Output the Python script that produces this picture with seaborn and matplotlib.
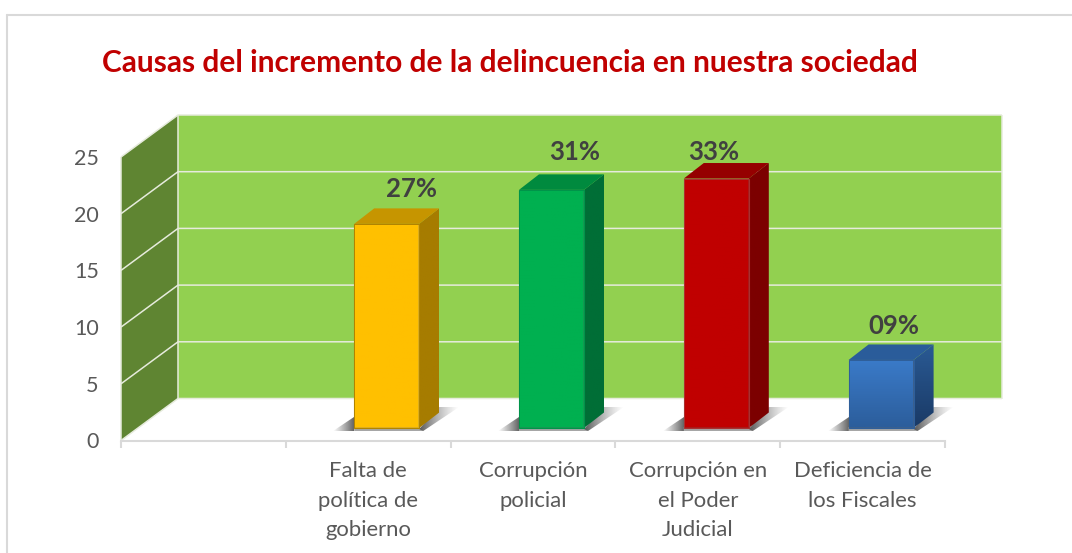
import numpy as np
import pandas as pd
import seaborn as sns
import matplotlib
matplotlib.use("Agg")
import matplotlib.pyplot as plt
from matplotlib.colors import to_rgba
from matplotlib.lines import Line2D
from matplotlib.patches import Polygon
from matplotlib.transforms import Affine2D, IdentityTransform

# ---- data -------------------------------------------------------------
title = "Causas del incremento de la delincuencia en nuestra sociedad"
blank_category = " "
categories = ["Falta de\npolítica de\ngobierno", "Corrupción\npolicial",
              "Corrupción en\nel Poder\nJudicial", "Deficiencia de\nlos Fiscales"]
values = [18, 21, 22, 6]
percent_labels = ["27%", "31%", "33%", "09%"]
y_ticks = [0, 5, 10, 15, 20, 25]

# ---- style ------------------------------------------------------------
front_colors = ["#FFC000", "#00B050", "#C00000", "#3A7AC8"]
front_colors_low = ["#FFC000", "#00B050", "#C00000", "#2C5E9C"]
side_colors = ["#A67C00", "#006E36", "#7C0000", "#2A5A94"]
side_colors_low = ["#A67C00", "#006E36", "#7C0000", "#1A3A66"]
top_colors = ["#C69500", "#008A3E", "#950000", "#2A5C9A"]
edge_colors = ["#B08400", "#00944A", "#A83030", "#2F5F9A"]
label_offsets = [(24.5, 35), (23.5, 38), (-2.5, 27), (12.5, 34)]   # px from front-top-centre

W, H = 1072, 553
sns.set_theme(style="white")
plt.rcParams["font.family"] = ["Lato", "DejaVu Sans"]

fig = plt.figure(figsize=(W / 100, H / 100), dpi=100, facecolor="white")
ax = fig.add_axes([121 / W, 1 - 440.5 / H, (945 - 121) / W, (440.5 - 157) / H])
ax.patch.set_alpha(0)

df = pd.DataFrame({"cat": categories, "val": values})
order = [blank_category] + categories
bar_width = 65 / 164.8
sns.barplot(data=df, x="cat", y="val", hue="cat", order=order, hue_order=categories,
            palette=dict(zip(categories, front_colors_low)), width=bar_width, dodge=False,
            legend=False, ax=ax, zorder=5)

ax.set_xlim(-0.5, len(order) - 0.5)
ax.set_ylim(0, 25)
ax.set_autoscale_on(False)

# ---- axes -------------------------------------------------------------
ax.set_xlabel("")
ax.set_ylabel("")
for s in ["top", "left", "right"]:
    ax.spines[s].set_visible(False)
ax.spines["bottom"].set_color("#D9D9D9")
ax.spines["bottom"].set_linewidth(1.5)
ax.set_yticks(y_ticks)
ax.tick_params(axis="y", length=0, pad=16, labelsize=15.5, labelcolor="#595959")
ax.set_xticks(range(len(order)))
ax.set_xticklabels(order, linespacing=1.58)
ax.tick_params(axis="x", which="major", length=0, pad=15, labelsize=15.9, labelcolor="#595959")
ax.set_xticks(np.arange(-0.5, len(order)), minor=True)
ax.tick_params(axis="x", which="minor", length=5, width=1.5, color="#D9D9D9", bottom=True)

fig.text(102 / W, 1 - 63.5 / H, title, color="#C00000", fontsize=21.5, fontweight="bold",
         va="center", ha="left")

# ---- helpers working in display pixels --------------------------------
ident = IdentityTransform()


def gradient(verts, colors, axis, z):
    """Fill a polygon with a linear gradient; axis 'x' or 'y' (low to high pixel)."""
    poly = Polygon(verts, closed=True, transform=ident, fc="none", ec="none", zorder=z)
    ax.add_patch(poly)
    xs, ys = zip(*verts)
    c = np.array([to_rgba(k) for k in colors])
    t = np.linspace(0, 1, 32)
    ramp = np.array([np.interp(t, np.linspace(0, 1, len(c)), c[:, i]) for i in range(4)]).T
    arr = ramp[None, :, :] if axis == "x" else ramp[:, None, :]
    im = ax.imshow(arr, extent=(min(xs), max(xs), min(ys), max(ys)), origin="lower",
                   transform=ident, aspect="auto", zorder=z, interpolation="bilinear")
    im.set_clip_box(fig.bbox)
    im.set_clip_path(poly)


def flat(verts, color, z):
    ax.add_patch(Polygon(verts, closed=True, transform=ident, fc=color, ec="none",
                         zorder=z, clip_on=False))


def line(xs, ys, z=2, color="#E6EBDC", lw=1.1):
    ax.add_line(Line2D(xs, ys, transform=ident, color=color, lw=lw, zorder=z, clip_on=False,
                       solid_capstyle="butt"))


# ---- walls and gridlines ----------------------------------------------
wall_dx, wall_dy = 57, 42
xa, xb = ax.get_xlim()
(x0, y0), (x1, y1) = ax.transData.transform([(xa, 0), (xb, 25)])
flat([(x0 + wall_dx, y0 + wall_dy), (x1 + wall_dx, y0 + wall_dy),
      (x1 + wall_dx, y1 + wall_dy), (x0 + wall_dx, y1 + wall_dy)], "#92D050", 1)
flat([(x0, y0), (x0 + wall_dx, y0 + wall_dy), (x0 + wall_dx, y1 + wall_dy), (x0, y1)], "#5F8532", 1)
for v in y_ticks:
    yp = ax.transData.transform((xa, v))[1]
    line([x0, x0 + wall_dx, x1 + wall_dx], [yp, yp + wall_dy, yp + wall_dy])
line([x0, x0], [y0, y1])
line([x0 + wall_dx, x0 + wall_dx], [y0 + wall_dy, y1 + wall_dy])
line([x1 + wall_dx, x1 + wall_dx], [y0 + wall_dy, y1 + wall_dy])

# ---- 3-D bars ---------------------------------------------------------
shift = Affine2D().translate(18.5, 12.5)
bar_dx, bar_dy = 20, 15.5
patches = sorted([p for c in ax.containers for p in c if p.get_height() > 0], key=lambda p: p.get_x())
for i, p in enumerate(patches):
    p.set_transform(ax.transData + shift)
    p.set_clip_on(False)
    p.set_edgecolor(edge_colors[i])
    p.set_linewidth(0.8)
    bb = p.get_window_extent()
    xl, xr, yb, yt = bb.x0, bb.x1, bb.y0, bb.y1

    # floor shadow
    gradient([(xl - 21, yb - 3), (xl, yb - 3), (xl, yb + 11)],
             [(0.45, 0.45, 0.45, 0), (0.4, 0.4, 0.4, 1.0)], "x", 3)
    flat([(xl, yb - 3), (xr + 4, yb - 3), (xr, yb + 1), (xl, yb + 1)], "#A6A6A6", 3)
    gradient([(xr, yb - 1), (xr + 4, yb - 3), (xr + 40, yb + 21), (xr + 20, yb + 21)],
             [(0.35, 0.35, 0.35, 1.0), (0.6, 0.6, 0.6, 0)], "x", 3)

    # side and top faces
    side = [(xr, yb), (xr + bar_dx, yb + bar_dy), (xr + bar_dx, yt + bar_dy), (xr, yt)]
    gradient(side, [side_colors_low[i], side_colors[i]], "y", 4)
    flat([(xl, yt), (xl + bar_dx, yt + bar_dy), (xr + bar_dx, yt + bar_dy), (xr, yt)], top_colors[i], 4)

    # front-face gradient where the original has one
    gradient([(xl + 1, yb + 0.5), (xr - 1, yb + 0.5), (xr - 1, yt - 1), (xl + 1, yt - 1)],
             [front_colors_low[i], front_colors[i]], "y", 6)

    dx, dy = label_offsets[i]
    ax.annotate(percent_labels[i], xy=((xl + xr) / 2, yt), xycoords=ident,
                xytext=(dx * 0.72, dy * 0.72), textcoords="offset points", ha="center", va="center",
                fontsize=18.5, fontweight="bold", color="#404040", zorder=8, annotation_clip=False)

# ---- outer frame ------------------------------------------------------
for xs, ys in [((7, 7), (15, 553)), ((7, 1072), (15, 15))]:
    fig.add_artist(Line2D([v / W for v in xs], [1 - v / H for v in ys], color="#D9D9D9", lw=1.5))

fig.savefig("out.png", dpi=100)
